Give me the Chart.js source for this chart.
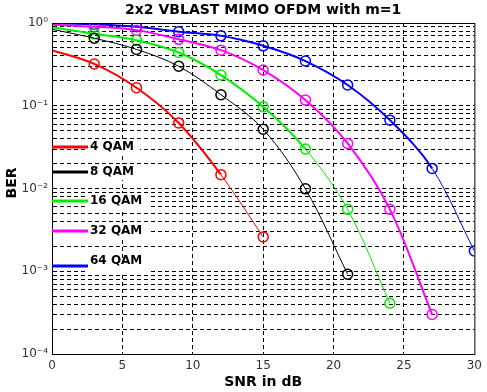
<!DOCTYPE html>
<html>
<head>
<meta charset="utf-8">
<script src="https://cdn.jsdelivr.net/npm/chart.js@4"></script>
<style>
    html, body { margin: 0; padding: 0; background: #fff; }
    #wrap { width: 487px; height: 392px; }
</style>
</head>
<body>
<div id="wrap"><canvas id="berChart"></canvas></div>
<script>
// SNR points (dB) and BER
const snr = [0, 3, 6, 9, 12, 15, 18, 21, 24, 27, 30];
const ber4 = [0.47, 0.32, 0.165, 0.062, 0.0147, 0.0026];
const ber8 = [0.84, 0.655, 0.48, 0.30, 0.136, 0.052, 0.0099, 0.00092];
const ber16 = [0.89, 0.74, 0.62, 0.44, 0.235, 0.097, 0.030, 0.0056, 0.00041];
const ber32 = [0.95, 0.90, 0.82, 0.635, 0.47, 0.27, 0.117, 0.035, 0.0056, 0.0003];
const ber64 = [0.99, 0.965, 0.90, 0.785, 0.70, 0.53, 0.347, 0.178, 0.067, 0.0175, 0.00176];
const seriesNames = ['4 QAM', '8 QAM', '16 QAM', '32 QAM', '64 QAM'];
const xTicks = [0, 5, 10, 15, 20, 25, 30];
const yDecades = [-4, -3, -2, -1, 0];

const colors = ['#ff0000', '#000000', '#00ee00', '#ff00ff', '#0000ff'];
const widths = [2, 1, 2, 2, 2];
const thinFrom = [4, 0, 6, 99, 9];   // segment index where the line becomes thin
const legendY = [147, 172, 201, 231, 266];

const sup = { '-': '\u207B', '0': '\u2070', '1': '\u00B9', '2': '\u00B2', '3': '\u00B3', '4': '\u2074' };
const toSup = s => String(s).split('').map(c => sup[c]).join('');

function makeSet(i, values) {
    return {
        label: seriesNames[i],
        data: values.map((v, k) => ({ x: snr[k], y: v })),
        borderColor: colors[i],
        backgroundColor: 'transparent',
        borderWidth: widths[i],
        pointRadius: values.map((v, k) => k === 0 ? 0 : 5),
        pointBorderWidth: 1.5,
        pointBorderColor: colors[i],
        pointBackgroundColor: 'transparent',
        tension: 0.35,
        segment: {
            borderWidth: ctx => ctx.p0DataIndex >= thinFrom[i] ? 1 : widths[i]
        }
    };
}

// title, axis labels, frame and the in-plot legend
const decorations = {
    id: 'decorations',
    afterDatasetsDraw(chart) {
        const { ctx, chartArea: a } = chart;
        ctx.save();
        ctx.strokeStyle = '#000';
        ctx.lineWidth = 1;
        ctx.setLineDash([]);
        ctx.strokeRect(a.left + 0.5, a.top + 0.5, a.right - a.left, a.bottom - a.top);

        ctx.textBaseline = 'middle';
        seriesNames.forEach((name, i) => {
            const y = legendY[i];
            ctx.font = 'bold 12px "DejaVu Sans"';
            const w = ctx.measureText(name).width;
            ctx.fillStyle = '#fff';
            ctx.fillRect(a.left + 36, y - 8, w + 8, 16);
            ctx.strokeStyle = colors[i];
            ctx.lineWidth = 3;
            ctx.beginPath();
            ctx.moveTo(a.left, y);
            ctx.lineTo(a.left + 36, y);
            ctx.stroke();
            ctx.fillStyle = '#000';
            ctx.textAlign = 'left';
            ctx.fillText(name, a.left + 38, i === 4 ? y - 5 : y);
        });

        ctx.fillStyle = '#000';
        ctx.textAlign = 'center';
        ctx.font = 'bold 14px "DejaVu Sans"';
        ctx.fillText('2x2 VBLAST MIMO OFDM with m=1', (a.left + a.right) / 2, 10);
        ctx.fillText('SNR in dB', (a.left + a.right) / 2, 382);
        ctx.translate(12, 183);
        ctx.rotate(-Math.PI / 2);
        ctx.fillText('BER', 0, 0);
        ctx.restore();
    }
};

document.addEventListener('DOMContentLoaded', () => {
    const berCtx = document.getElementById('berChart').getContext('2d');
    new Chart(berCtx, {
        type: 'line',
        data: {
            datasets: [makeSet(0, ber4), makeSet(1, ber8), makeSet(2, ber16), makeSet(3, ber32), makeSet(4, ber64)]
        },
        options: {
            responsive: true,
            maintainAspectRatio: false,
            animation: false,
            layout: { padding: { top: 23, right: 11, left: 0, bottom: 0 } },
            plugins: { legend: { display: false }, tooltip: { enabled: false } },
            scales: {
                x: {
                    type: 'linear',
                    min: 0,
                    max: 30,
                    afterBuildTicks: s => { s.ticks = xTicks.map(v => ({ value: v })); },
                    afterFit: s => { s.height = 38; },
                    grid: {
                        color: c => (c.tick && (c.tick.value === 0 || c.tick.value === 30)) ? 'transparent' : '#000',
                        drawTicks: false
                    },
                    border: { display: true, color: '#000', dash: [4, 3] },
                    ticks: { color: '#333', padding: 5, font: { family: '"DejaVu Sans"', size: 12 } }
                },
                y: {
                    type: 'logarithmic',
                    min: 1e-4,
                    max: 1,
                    afterBuildTicks: s => {
                        const t = [];
                        yDecades.forEach(e => {
                            const last = e === 0 ? 1 : 9;
                            for (let m = 1; m <= last; m++) t.push({ value: m * Math.pow(10, e), major: m === 1 });
                        });
                        s.ticks = t;
                    },
                    afterFit: s => { s.width = 52; },
                    grid: {
                        color: c => (c.tick && (c.tick.value <= 1.0001e-4 || c.tick.value >= 0.9999)) ? 'transparent' : '#000',
                        drawTicks: false
                    },
                    border: { display: true, color: '#000', dash: [4, 3] },
                    ticks: {
                        color: '#333',
                        padding: 4,
                        autoSkip: false,
                        font: { family: '"DejaVu Sans"', size: 12 },
                        callback: v => {
                            const e = Math.round(Math.log10(v));
                            return Math.abs(v - Math.pow(10, e)) < 1e-12 ? '10' + toSup(e) : '';
                        }
                    }
                }
            }
        },
        plugins: [decorations]
    });
});
</script>
</body>
</html>
